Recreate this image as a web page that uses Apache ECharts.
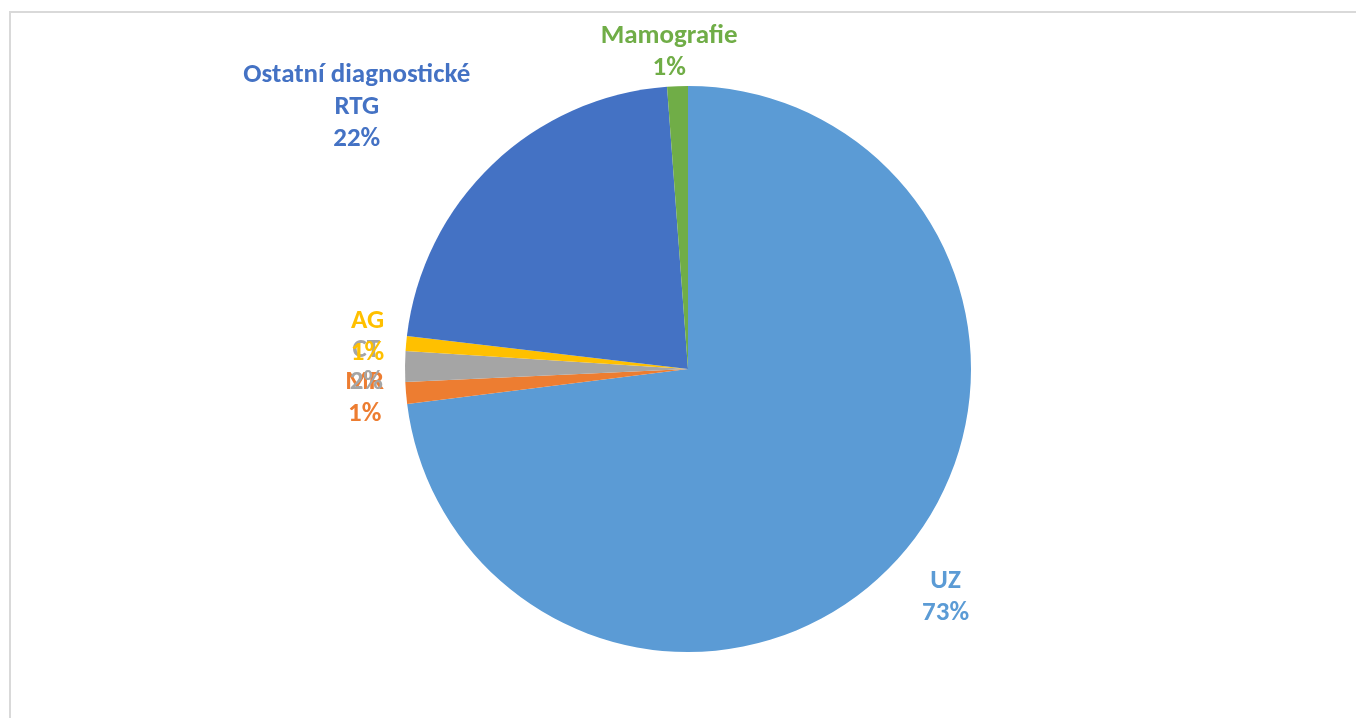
<!DOCTYPE html>
<html>
<head>
<meta charset="utf-8">
<title>Pie</title>
<script src="https://cdn.jsdelivr.net/npm/echarts@6/dist/echarts.min.js"></script>
<style>
  html, body { margin: 0; padding: 0; background: #fff; }
  #chart { width: 1356px; height: 718px; }
</style>
</head>
<body>
<div id="chart"></div>
<script>
// slices, clockwise from 12 o'clock
const categories = ["UZ", "MR", "CT", "AG", "Ostatní diagnostické RTG", "Mamografie"];
const values = [73.03, 1.24, 1.74, 0.85, 21.96, 1.18];
const colors = ["#5B9BD5", "#ED7D31", "#A5A5A5", "#FFC000", "#4472C4", "#70AD47"];

const CX = 688, CY = 369, R = 283;

// narrow bold font close to Calibri, sized so the long label is ~227px wide
function pickFont() {
  const probe = "Ostatní diagnostické";
  const ctx = document.createElement("canvas").getContext("2d");
  const fams = ["Carlito", "Liberation Sans Narrow", "Open Sans"];
  for (const f of fams) {
    ctx.font = "bold 26px monospace";
    const a = ctx.measureText(probe).width;
    ctx.font = "bold 26px '" + f + "', monospace";
    const b = ctx.measureText(probe).width;
    if (Math.abs(a - b) > 1) {
      return { family: f, size: Math.min(27, 26 * 227 / b) };
    }
  }
  return { family: "sans-serif", size: 20 };
}
const font = pickFont();

// wrap long names like Excel does
function wrap(name, max) {
  const lines = [];
  let cur = "";
  name.split(" ").forEach(function (w) {
    if (cur && (cur + " " + w).length > max) {
      lines.push(cur);
      cur = w;
    } else {
      cur = cur ? cur + " " + w : w;
    }
  });
  lines.push(cur);
  return lines.join("\n");
}

const total = values.reduce((s, v) => s + v, 0);
const mids = [];
let acc = 0;
values.forEach(function (v) {
  mids.push((acc + v / 2) / total * 2 * Math.PI);
  acc += v;
});

const myChart = echarts.init(document.getElementById("chart"));
const option = {
  animation: false,
  backgroundColor: "#ffffff",
  graphic: [
    {
      type: "rect",
      shape: { x: 10, y: 12, width: 1500, height: 900 },
      style: { fill: "none", stroke: "#d9d9d9", lineWidth: 2 },
      silent: true,
    },
  ],
  series: [
    {
      type: "pie",
      center: [CX, CY],
      radius: R,
      startAngle: 90,
      clockwise: true,
      avoidLabelOverlap: false,
      percentPrecision: 0,
      emphasis: { disabled: true },
      label: {
        show: true,
        position: "outside",
        fontFamily: font.family,
        fontWeight: "bold",
        fontSize: font.size,
        lineHeight: 32,
        formatter: function (p) {
          return wrap(p.name, 20) + "\n" + p.percent + "%";
        },
      },
      labelLine: { show: false },
      // place each label box just outside the rim, along the slice's mid angle
      labelLayout: function (p) {
        const a = mids[p.dataIndex];
        const ux = Math.sin(a), uy = -Math.cos(a);
        const clamp = (t) => Math.max(-1, Math.min(1, t));
        const w = p.labelRect.width, h = p.labelRect.height;
        return {
          x: CX + R * ux + clamp(2.5 * ux) * (w / 2 + 22),
          y: CY + R * uy + clamp(1.5 * uy) * (h / 2 + 2 + 10 * Math.abs(ux)),
          align: "center",
          verticalAlign: "middle",
        };
      },
      data: categories.map(function (c, i) {
        return {
          name: c,
          value: values[i],
          itemStyle: { color: colors[i] },
          label: { color: colors[i] },
        };
      }),
    },
  ],
};
myChart.setOption(option);
</script>
</body>
</html>
